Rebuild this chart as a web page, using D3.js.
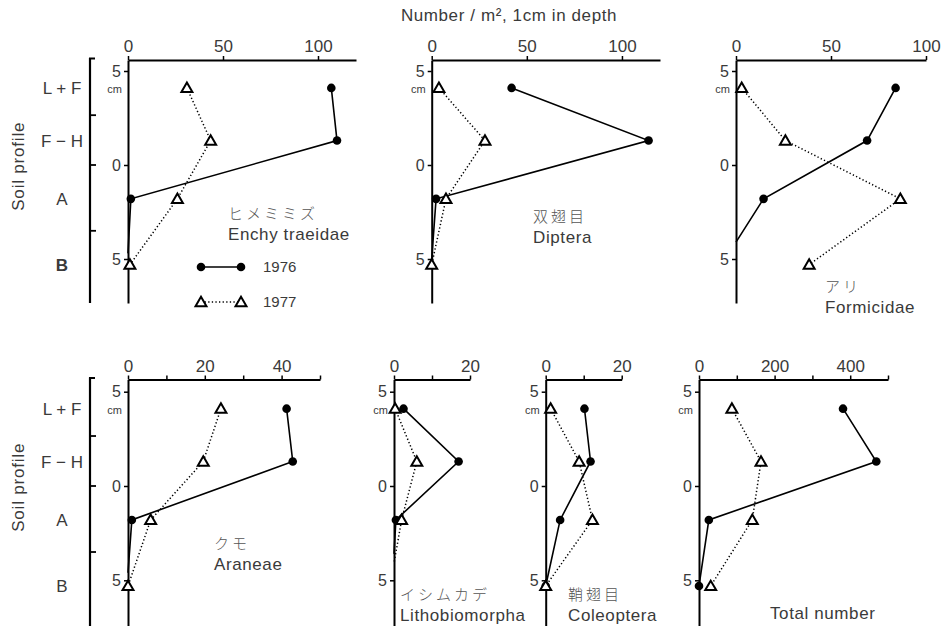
<!DOCTYPE html>
<html>
<head>
<meta charset="utf-8">
<script src="https://cdn.jsdelivr.net/npm/d3@7"></script>
<style>
  html, body { margin: 0; padding: 0; background: #fff; }
  svg { display: block; }
  text { font-family: "Liberation Sans", "DejaVu Sans", sans-serif; fill: #3a3a3a; }
  .cjk { font-family: "Noto Sans CJK JP", sans-serif; font-weight: 300; fill: #555; }
</style>
</head>
<body>
<svg id="chart" width="949" height="626"></svg>
<script>
// Sampling depths (cm) of the four horizons: L+F, F−H, A, B (litter above 0, soil below)
const horizonDepths = [4.1, 1.3, -1.8, -5.3];
const horizonNames = ["L+F", "F−H", "A", "B"];
// Horizon boundaries on the profile bracket (cm)
const horizonBounds = [2.65, 0, -3.5];

// Number / m², 1 cm in depth — 1976 and 1977, per horizon
const enchy1976 = [107, 110, 1.5, 0];
const enchy1977 = [31, 43.5, 26, 1];
const diptera1976 = [42, 114, 2.3, 0];
const diptera1977 = [3.8, 28, 7.5, 0];
const formicidae1976 = [84, 69, 14.5, 0];
const formicidae1977 = [3, 26, 86.5, 38.5];
const araneae1976 = [41.3, 42.9, 1, 0];
const araneae1977 = [24.2, 19.6, 5.9, 0];
const lithobio1976 = [2.5, 17, 0.5, 0];
const lithobio1977 = [0.3, 6, 2, 0];
const coleoptera1976 = [10.2, 11.8, 3.8, 0];
const coleoptera1977 = [1.3, 8.8, 12.3, 0];
const total1976 = [381, 469, 26, 0];
const total1977 = [87, 164, 141, 31];

// Depth (cm) where a curve falls to zero before the B horizon (null: ends at the B sample)
const zeroDepth = {
  enchy1976: -4.7, diptera1976: -5.0, formicidae1976: -4.1,
  araneae1976: -4.6, lithobio1976: -3.6, lithobio1977: -4.1
};

// Axis ticks and labels per panel
const ticksTop = [0, 50, 100];
const ticksSmall = [0, 10, 20, 30, 40, 50];
const ticks20 = [0, 10, 20];
const ticksTotal = [0, 100, 200, 300, 400, 500];
const labelsTop = [0, 50, 100];
const labelsAraneae = [0, 20, 40];
const labels20 = [0, 20];
const labelsTotal = [0, 200, 400];

const panels = [
  { row: 0, x0: 128, x1: 356, max: 120, ticks: ticksTop, labels: labelsTop,
    s76: enchy1976, s77: enchy1977, z76: zeroDepth.enchy1976, z77: null,
    jp: "ヒメミミズ", en: "Enchy traeidae", lx: 228, ly: 214 },
  { row: 0, x0: 431.7, x1: 660, max: 120, ticks: ticksTop, labels: labelsTop,
    s76: diptera1976, s77: diptera1977, z76: zeroDepth.diptera1976, z77: null,
    jp: "双翅目", en: "Diptera", lx: 533, ly: 217 },
  { row: 0, x0: 736, x1: 926, max: 100, ticks: ticksTop, labels: labelsTop,
    s76: formicidae1976, s77: formicidae1977, z76: zeroDepth.formicidae1976, z77: null,
    jp: "アリ", en: "Formicidae", lx: 825, ly: 287 },
  { row: 1, x0: 128, x1: 320, max: 50, ticks: ticksSmall, labels: labelsAraneae,
    s76: araneae1976, s77: araneae1977, z76: zeroDepth.araneae1976, z77: null,
    jp: "クモ", en: "Araneae", lx: 214, ly: 544 },
  { row: 1, x0: 394, x1: 470, max: 20, ticks: ticks20, labels: labels20,
    s76: lithobio1976, s77: lithobio1977, z76: zeroDepth.lithobio1976, z77: zeroDepth.lithobio1977,
    jp: "イシムカデ", en: "Lithobiomorpha", lx: 400, ly: 595 },
  { row: 1, x0: 545.7, x1: 621.7, max: 20, ticks: ticks20, labels: labels20,
    s76: coleoptera1976, s77: coleoptera1977, z76: null, z77: null,
    jp: "鞘翅目", en: "Coleoptera", lx: 568, ly: 595 },
  { row: 1, x0: 699, x1: 888, max: 500, ticks: ticksTotal, labels: labelsTotal,
    s76: total1976, s77: total1977, z76: null, z77: null,
    jp: null, en: "Total number", lx: 770, ly: 613 }
];

// Vertical layout of the two rows: x-axis line, pixel of depth 0, pixels per cm, bottom
const rows = [
  { top: 60, zero: 165, perCm: 18.8, bottom: 303 },
  { top: 379.5, zero: 486, perCm: 18.86, bottom: 626 }
];

const svg = d3.select("#chart");

function depthScale(r) {
  const R = rows[r];
  return d3.scaleLinear()
    .domain([(R.zero - R.top) / R.perCm, (R.zero - R.bottom) / R.perCm])
    .range([R.top, R.bottom]);
}

// Title
svg.append("text").attr("x", 509).attr("y", 21).attr("text-anchor", "middle")
  .attr("font-size", 17).attr("letter-spacing", 0.6).text("Number / m\u00B2, 1cm in depth");

// Soil profile brackets on the left of each row
rows.forEach((R, r) => {
  const y = depthScale(r);
  const g = svg.append("g");
  g.append("line").attr("x1", 90).attr("x2", 90).attr("y1", R.top - 2).attr("y2", R.bottom)
    .attr("stroke", "#000").attr("stroke-width", 2.2);
  g.append("line").attr("x1", 89).attr("x2", 95).attr("y1", R.top - 1.5).attr("y2", R.top - 1.5)
    .attr("stroke", "#000").attr("stroke-width", 2);
  horizonBounds.forEach(b => {
    g.append("line").attr("x1", 90).attr("x2", 96).attr("y1", y(b)).attr("y2", y(b))
      .attr("stroke", "#000").attr("stroke-width", 1.8);
  });
  horizonNames.forEach((name, i) => {
    g.append("text").attr("x", 62).attr("y", y(horizonDepths[i]))
      .attr("dy", "0.36em").attr("text-anchor", "middle").attr("font-size", 17)
      .attr("font-weight", (r === 0 && i === 3) ? "bold" : "normal")
      .text(name.replace("+", " + ").replace("−", " − "));
  });
  const cy = (y(horizonDepths[0]) + y(horizonDepths[3])) / 2 - 10;
  g.append("text").attr("transform", `translate(24,${cy}) rotate(-90)`)
    .attr("text-anchor", "middle").attr("font-size", 17).attr("letter-spacing", 0.8)
    .text("Soil profile");
});

function triangle(sel) {
  sel.attr("d", d3.symbol().type(d3.symbolTriangle).size(52)())
    .attr("fill", "#fff").attr("stroke", "#000").attr("stroke-width", 2);
}

panels.forEach(p => {
  const R = rows[p.row];
  const y = depthScale(p.row);
  const x = d3.scaleLinear().domain([0, p.max]).range([p.x0, p.x1]);
  const g = svg.append("g");

  // Number axis along the top
  const xa = g.append("g").attr("transform", `translate(0,${R.top})`)
    .call(d3.axisTop(x).tickValues(p.ticks).tickSize(4).tickSizeOuter(0)
      .tickFormat(v => p.labels.includes(v) ? v : ""));
  xa.select(".domain").attr("stroke", "#000").attr("stroke-width", 2);
  xa.selectAll(".tick line").attr("stroke", "#000").attr("stroke-width", 1.5);
  xa.selectAll(".tick text").attr("font-size", 17).attr("fill", "#3a3a3a")
    .attr("font-family", "Liberation Sans, sans-serif").attr("dy", "-1");

  // Depth axis
  const ya = g.append("g").attr("transform", `translate(${p.x0},0)`)
    .call(d3.axisLeft(y).tickValues([5, 0, -5]).tickSize(4).tickSizeOuter(0)
      .tickFormat(v => Math.abs(v)));
  ya.select(".domain").attr("stroke", "#000").attr("stroke-width", 2);
  ya.selectAll(".tick line").attr("stroke", "#000").attr("stroke-width", 1.5);
  ya.selectAll(".tick text").attr("font-size", 16).attr("fill", "#3a3a3a")
    .attr("font-family", "Liberation Sans, sans-serif").attr("x", -7);
  g.append("text").attr("x", p.x0 - 6).attr("y", y(horizonDepths[0]) + 5)
    .attr("text-anchor", "end").attr("font-size", 11).text("cm");

  // Build the plotted points of one year
  function pts(vals, zero) {
    return vals.map((v, i) => ({
      v, d: (i === vals.length - 1 && zero !== null) ? zero : horizonDepths[i],
      mark: !(i === vals.length - 1 && zero !== null)
    }));
  }
  const a = pts(p.s76, p.z76), b = pts(p.s77, p.z77);
  const line = d3.line().x(d => x(d.v)).y(d => y(d.d));

  g.append("path").attr("d", line(b)).attr("fill", "none").attr("stroke", "#000")
    .attr("stroke-width", 1.5).attr("stroke-dasharray", "1.3 2.3");
  g.append("path").attr("d", line(a)).attr("fill", "none").attr("stroke", "#000")
    .attr("stroke-width", 1.6);
  g.selectAll(".dot").data(a.filter(d => d.mark)).join("circle")
    .attr("cx", d => x(d.v)).attr("cy", d => y(d.d)).attr("r", 4.3).attr("fill", "#000");
  g.selectAll(".tri").data(b.filter(d => d.mark)).join("path")
    .attr("transform", d => `translate(${x(d.v)},${y(d.d) + 1})`).call(triangle);

  // Taxon names
  if (p.jp) {
    g.append("text").attr("class", "cjk").attr("x", p.lx).attr("y", p.ly)
      .attr("dy", "0.36em").attr("font-size", 15).attr("letter-spacing", 3).text(p.jp);
  }
  g.append("text").attr("x", p.lx).attr("y", p.jp ? p.ly + 20 : p.ly)
    .attr("dy", "0.36em").attr("font-size", 17).attr("letter-spacing", 0.6)
    .attr("fill", "#444").text(p.en);
});

// Year legend
const legend = svg.append("g");
const legYears = ["1976", "1977"];
const legY = [267, 302];
legYears.forEach((yr, i) => {
  const lg = legend.append("g");
  lg.append("line").attr("x1", 201).attr("x2", 241).attr("y1", legY[i]).attr("y2", legY[i])
    .attr("stroke", "#000").attr("stroke-width", 1.5)
    .attr("stroke-dasharray", i === 0 ? null : "1.3 2.3");
  [201, 241].forEach(cx => {
    if (i === 0) {
      lg.append("circle").attr("cx", cx).attr("cy", legY[i]).attr("r", 4.3).attr("fill", "#000");
    } else {
      lg.append("path").attr("transform", `translate(${cx},${legY[i] + 1})`).call(triangle);
    }
  });
  lg.append("text").attr("x", 263).attr("y", legY[i]).attr("dy", "0.36em")
    .attr("font-size", 15).attr("fill", "#444").text(yr);
});
</script>
</body>
</html>
